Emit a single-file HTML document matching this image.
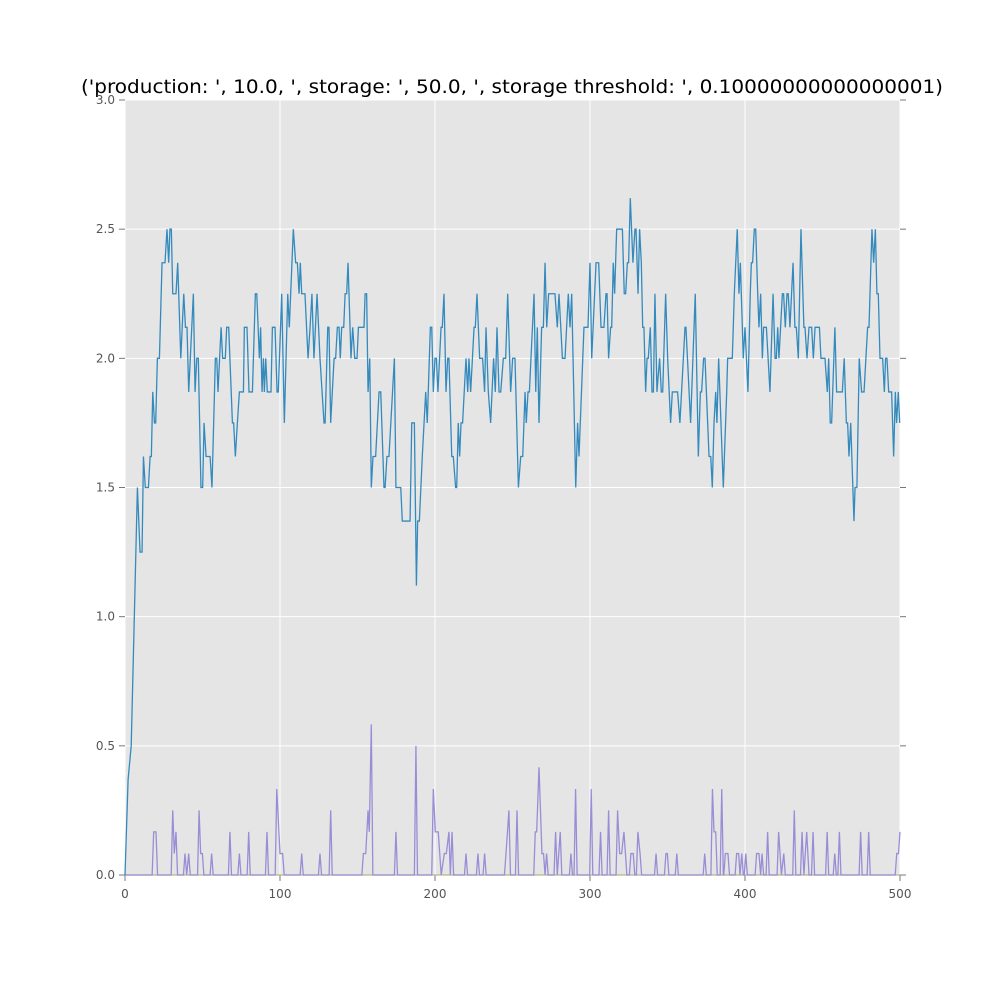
<!DOCTYPE html>
<html><head><meta charset="utf-8"><style>
html,body{margin:0;padding:0;background:#fff;}
svg{display:block;font-family:"DejaVu Sans","Liberation Sans",sans-serif;}
</style></head><body>
<svg id="chart" width="1000" height="1000" viewBox="0 0 1000 1000" xmlns="http://www.w3.org/2000/svg">
<rect x="0" y="0" width="1000" height="1000" fill="#fff"/>
<text x="512" y="93" text-anchor="middle" font-size="19" fill="#000" textLength="862" lengthAdjust="spacingAndGlyphs">('production: ', 10.0, ', storage: ', 50.0, ', storage threshold: ', 0.10000000000000001)</text>
<rect x="125" y="100" width="775" height="775" fill="#e5e5e5"/>
<g id="grid"></g>
<g id="ticks"></g>
<g id="series"></g>
</svg>
<script>
const xTicks = [0, 100, 200, 300, 400, 500];
const yTicks = [0.0, 0.5, 1.0, 1.5, 2.0, 2.5, 3.0];
const blueX = [0,2,4,6.5,8,9.7,11,11.9,13.1,15.1,16.2,17,17.9,19,19.8,20.9,22.2,23.9,25.8,27.1,28.2,29,29.9,30.8,32.9,34,36,37.9,39,40,41.1,44.1,45.2,46.3,47.3,49,50.1,51,52.3,54.9,56.1,58.3,59.2,60,62,63,64.7,65.6,66.9,69.3,70.1,71.2,72.5,73.8,76.4,77,78.7,80,82.2,84.1,85,86.7,87.5,88.4,89.3,89.9,90.8,91.8,94.2,95.1,96.8,98.1,98.9,101.1,102.8,105,106,108.6,110.1,111.2,112.3,113.1,114,116.1,118.1,119.4,120.6,121.9,123.9,125.8,128.4,129.1,130.8,131.6,132.7,134.9,135.9,137,138.1,138.9,139.8,141.1,142,143,143.9,145.8,146.9,148.2,149.7,150.6,154.2,154.9,155.9,156.8,157.9,158.9,160,161.7,163.9,165,167.1,167.8,169,170.3,173.8,174.8,177.9,178.9,183.9,185,186.7,188,188.8,189.9,191.8,194,195,197,197.9,198.9,200,200.9,201.9,203.9,204.7,205.8,207.1,208.2,209,210.8,211.8,213.3,214,215,215.9,216.8,217.8,220,221.1,221.9,223,225.2,226,227.1,228.8,230.7,232,232.9,234.4,235.9,237.8,238.9,240,241.3,242.4,244.1,245.6,246.9,248.8,250.1,251.6,253.8,255.3,256.6,258.1,258.9,260,260.9,263.9,265,266,267.1,268.8,269.9,271,272.1,273.3,277.4,278.9,280,282.2,283.9,286,287.1,288.2,290.8,292,292.9,296.1,298.7,300,301.1,303.9,305.6,307.1,309,310.3,311,312,313.3,314,315,315.9,317.2,320.9,322.1,323,324.1,324.9,326,327.7,329,329.7,331,332,333.1,334,334.8,335.9,336.8,337.6,338.9,340,340.9,341.9,343.2,344.9,346,346.9,348.8,350.1,352,353.1,356.5,358,361.3,361.9,364.9,367.9,369.9,371.2,372,373.3,374.2,376.8,377.9,378.9,380,381.1,381.9,383,386,388.2,388.8,391.8,393.1,395,396.1,397,398.9,400,401.9,403.4,404.1,404.9,406,406.9,408.2,409,410.1,411.2,412,413.8,416.1,418.1,419.4,420.2,421.1,421.9,424.1,424.9,426,427.1,427.9,429,431,432.2,433.1,434.4,436.1,438,438.7,440,441.3,443,444.1,445.2,448,449,451.6,453.1,454,455,455.9,458,459.1,462.8,464,465.4,466.2,467.1,468.2,470.3,471,472.2,473.7,475.2,476.8,479.1,480,481.9,483,484.1,485.1,486,487.1,488.8,489.9,490.7,491.6,492.7,494.6,495.9,497,497.8,498.9,499.8];
const blueY = [0,0.37,0.5,1.12,1.5,1.25,1.25,1.62,1.5,1.5,1.62,1.62,1.87,1.75,1.75,2.0,2.0,2.37,2.37,2.5,2.37,2.5,2.5,2.25,2.25,2.37,2.0,2.25,2.12,2.12,1.87,2.25,1.87,2.0,2.0,1.5,1.5,1.75,1.62,1.62,1.5,2.0,2.0,1.87,2.12,2.0,2.0,2.12,2.12,1.75,1.75,1.62,1.75,1.87,1.87,2.12,2.12,1.87,1.87,2.25,2.25,2.0,2.12,1.87,2.0,1.87,2.0,1.87,1.87,2.12,2.12,1.87,1.87,2.25,1.75,2.25,2.12,2.5,2.37,2.37,2.25,2.37,2.25,2.25,2.0,2.12,2.25,2.0,2.25,2.0,1.75,1.75,2.12,2.12,1.75,2.0,2.0,2.12,2.12,2.0,2.12,2.12,2.25,2.25,2.37,2.0,2.12,2.0,2.0,2.12,2.12,2.25,2.25,1.87,2.0,1.5,1.62,1.62,1.87,1.87,1.5,1.5,1.62,1.62,2.0,1.5,1.5,1.37,1.37,1.75,1.75,1.12,1.37,1.37,1.62,1.87,1.75,2.12,2.12,1.87,2.0,2.0,1.87,2.12,2.12,2.25,1.87,2.0,2.0,1.62,1.62,1.5,1.5,1.75,1.62,1.75,1.75,2.0,1.87,2.0,1.87,2.12,2.12,2.25,2.0,2.0,1.87,2.12,1.87,1.75,2.0,1.87,2.12,1.87,1.87,2.0,2.0,2.25,1.87,2.0,2.0,1.5,1.62,1.62,1.87,1.75,1.87,1.87,2.25,1.87,2.12,1.75,2.12,2.12,2.37,2.12,2.25,2.25,2.12,2.25,2.0,2.0,2.25,2.12,2.25,1.5,1.75,1.62,2.12,2.12,2.37,2.0,2.37,2.37,2.12,2.12,2.25,2.25,2.0,2.12,2.12,2.37,2.25,2.5,2.5,2.25,2.25,2.37,2.37,2.62,2.37,2.5,2.5,2.25,2.5,2.37,2.12,2.12,1.87,2.0,2.0,2.12,1.87,1.87,2.25,1.87,2.0,1.87,1.87,2.25,2.0,1.75,1.87,1.87,1.75,2.12,2.12,1.75,2.25,1.62,1.87,1.87,2.0,2.0,1.62,1.62,1.5,1.75,1.87,1.75,2.0,1.5,1.87,2.0,2.0,2.25,2.5,2.25,2.37,2.0,2.12,1.87,2.25,2.37,2.37,2.5,2.5,2.25,2.12,2.25,2.0,2.12,2.12,1.87,2.25,2.0,2.0,2.12,2.0,2.25,2.25,2.12,2.25,2.25,2.12,2.37,2.12,2.12,2.0,2.5,2.12,2.12,2.0,2.12,2.12,2.0,2.12,2.12,2.0,2.0,1.87,2.0,1.75,1.75,2.12,1.87,1.87,2.0,1.75,1.75,1.62,1.75,1.37,1.5,1.5,2.0,1.87,1.87,2.12,2.12,2.5,2.37,2.5,2.25,2.25,2.0,2.0,1.87,2.0,2.0,1.87,1.87,1.62,1.87,1.75,1.87,1.75];
const purpleX = [0,18.5,20,30.8,31.8,32.9,38.7,39.8,41.1,47.8,48.8,49.9,55.9,67.7,73.8,79.8,91.6,95,97.9,100,101.7,114,125.8,132.7,153.8,155.3,156.8,157.6,158.9,174.8,187.7,198.9,200.2,202.1,204,206,207.3,209,209.9,211,220,227.7,232,245.8,247.7,250,252.9,264.7,265.6,267.1,269,270,271,272,277.8,278.9,280.8,287.7,290.7,300.8,306.8,312,315,317.8,319.1,320.4,321.9,323.8,326.4,327.9,330.9,332.3,342.6,349,349.9,356,374,379,380,381.1,385,387.3,389,394.6,395.9,396.8,397.9,400.5,407.5,409,410.1,411,414.6,421.7,423.5,425,431.8,436.8,438,439.8,441.3,443.9,453,457.9,460.9,474.6,479.8,497.9,499,500];
const purpleY = [0,0.167,0.167,0.25,0.083,0.167,0.083,0,0.083,0.25,0.083,0.083,0.083,0.167,0.083,0.167,0.167,0,0.333,0.083,0.083,0.083,0.083,0.25,0.083,0.083,0.25,0.167,0.583,0.167,0.5,0.333,0.167,0.167,0,0.083,0.083,0.167,0,0.167,0.083,0.083,0.083,0.083,0.25,0,0.25,0.167,0.167,0.417,0.083,0.083,0,0.083,0.167,0,0.167,0.083,0.333,0.333,0.167,0.25,0,0.25,0.083,0.083,0.167,0,0.083,0.083,0.167,0.083,0.083,0.083,0.083,0.083,0.083,0.333,0.167,0.167,0.333,0.083,0.083,0.083,0.083,0,0.083,0.083,0.083,0.083,0,0.083,0.167,0.167,0,0.083,0.25,0.167,0,0.167,0,0.167,0.167,0.083,0.167,0.167,0.167,0.083,0.083,0.167];

const NS = "http://www.w3.org/2000/svg";
const L = 125, R = 900, T = 100, B = 875;
function sx(v){ return L + (v - 0) / 500 * (R - L); }
function sy(v){ return B - (v - 0) / 3 * (B - T); }

const grid = document.getElementById('grid');
const ticks = document.getElementById('ticks');
const series = document.getElementById('series');

xTicks.forEach(function(t){
  const x = sx(t);
  const g = document.createElementNS(NS, 'line');
  
  
  g.setAttribute('x1', x); g.setAttribute('x2', x); g.setAttribute('y1', T); g.setAttribute('y2', B);
  g.setAttribute('stroke', '#fff'); g.setAttribute('stroke-width', '1');
  grid.appendChild(g);
  const tk = document.createElementNS(NS, 'line');
  
  
  tk.setAttribute('x1', x); tk.setAttribute('x2', x); tk.setAttribute('y1', B); tk.setAttribute('y2', B + 6);
  tk.setAttribute('stroke', '#777'); tk.setAttribute('stroke-width', '1');
  ticks.appendChild(tk);
  const lb = document.createElementNS(NS, 'text');
  
  
  lb.setAttribute('x', x); lb.setAttribute('y', B + 23);
  lb.setAttribute('text-anchor', 'middle'); lb.setAttribute('font-size', '12'); lb.setAttribute('fill', '#555');
  lb.textContent = String(t);
  ticks.appendChild(lb);
});
yTicks.forEach(function(t){
  const y = sy(t);
  const g = document.createElementNS(NS, 'line');
  
  
  g.setAttribute('x1', L); g.setAttribute('x2', R); g.setAttribute('y1', y); g.setAttribute('y2', y);
  g.setAttribute('stroke', '#fff'); g.setAttribute('stroke-width', '1');
  grid.appendChild(g);
  [[L - 6, L], [R, R + 6]].forEach(function(p){
    const tk = document.createElementNS(NS, 'line');
    
    
    tk.setAttribute('x1', p[0]); tk.setAttribute('x2', p[1]); tk.setAttribute('y1', y); tk.setAttribute('y2', y);
    tk.setAttribute('stroke', '#777'); tk.setAttribute('stroke-width', '1');
    ticks.appendChild(tk);
  });
  const lb = document.createElementNS(NS, 'text');
  
  
  lb.setAttribute('x', L - 10); lb.setAttribute('y', y + 4);
  lb.setAttribute('text-anchor', 'end'); lb.setAttribute('font-size', '12'); lb.setAttribute('fill', '#555');
  lb.textContent = t.toFixed(1);
  ticks.appendChild(lb);
});

// baseline zero series (yellowish, as in reference bottom)
const base = document.createElementNS(NS, 'line');


base.setAttribute('x1', sx(0)); base.setAttribute('x2', sx(500)); base.setAttribute('y1', sy(0)); base.setAttribute('y2', sy(0));
base.setAttribute('stroke', '#bbb38a'); base.setAttribute('stroke-width', '1.2');
series.appendChild(base);

// purple: insert zeros between non-adjacent nonzero points
let ppts = [];
for (let i = 0; i < purpleX.length; i++) {
  if (i > 0) {
    const px = purpleX[i-1], py = purpleY[i-1], cx = purpleX[i], cy = purpleY[i];
    if (cx - px > 2.2) {
      if (py > 0) ppts.push([px + 1, 0]);
      if (cy > 0) ppts.push([cx - 1, 0]);
    }
  }
  ppts.push([purpleX[i], purpleY[i]]);
}
const pp = document.createElementNS(NS, 'polyline');


pp.setAttribute('points', ppts.map(function(p){ return sx(p[0]).toFixed(2) + ',' + sy(p[1]).toFixed(2); }).join(' '));
pp.setAttribute('fill', 'none'); pp.setAttribute('stroke', '#988ed5'); pp.setAttribute('stroke-width', '1.3');
series.appendChild(pp);

const bp = document.createElementNS(NS, 'polyline');


bp.setAttribute('points', blueX.map(function(x, i){ return sx(x).toFixed(2) + ',' + sy(blueY[i]).toFixed(2); }).join(' '));
bp.setAttribute('fill', 'none'); bp.setAttribute('stroke', '#348abd'); bp.setAttribute('stroke-width', '1.3');
series.appendChild(bp);
</script>
</body></html>
